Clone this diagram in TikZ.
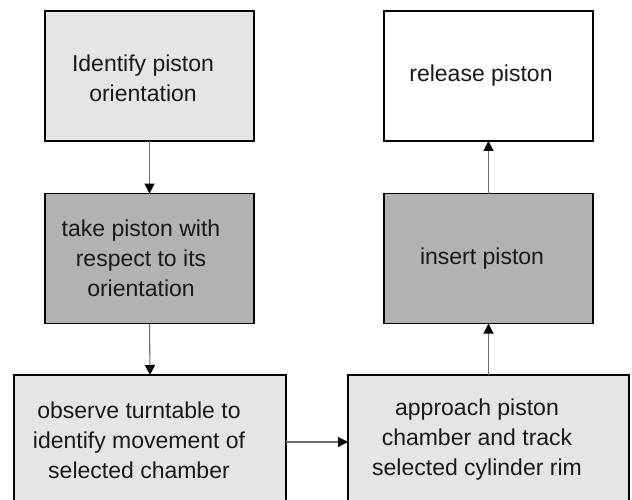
\documentclass[tikz,border=0pt]{standalone}
\usepackage{fontspec}
\setmainfont{Liberation Sans}
\usetikzlibrary{arrows.meta}
\definecolor{lightbox}{HTML}{E5E5E5}
\definecolor{darkbox}{HTML}{B2B2B2}
\definecolor{conn}{HTML}{6E6E6E}
\tikzset{
  box/.style={draw=black, line width=1.1pt, minimum width=209pt, minimum height=130pt, inner sep=0pt, outer sep=0pt},
  txt/.style={align=center, inner sep=0pt, font=\fontsize{23}{30}\selectfont, text=black!90},
  flow/.style={draw=conn, line width=1.1pt, -{Triangle[length=10pt,width=10pt,color=black]}}
}
\begin{document}
\begin{tikzpicture}[x=1pt,y=-1pt]
\useasboundingbox (0,0) rectangle (632,500);
\clip (0,0) rectangle (632,500);
\fill[white] (0,0) rectangle (632,500);
% boxes
\node[box, fill=lightbox] (b1) at (149.5,76) {};
\node[box, fill=darkbox] (b2) at (149.5,258.5) {};
\node[box, fill=lightbox, minimum width=272pt, minimum height=131pt] (b3) at (150,440.5) {};
\node[box, fill=white] (b4) at (488.5,76) {};
\node[box, fill=darkbox] (b5) at (488.5,258.5) {};
\node[box, fill=lightbox, minimum width=281pt, minimum height=131pt] (b6) at (488.5,440.5) {};
% texts
\node[txt] (t1) at (143,78) {Identify piston\\orientation};
\node[txt] (t2) at (141,258) {take piston with\\respect to its\\orientation};
\node[txt] (t3) at (139,440) {observe turntable to\\identify movement of\\selected chamber};
\node[txt] (t4) at (481,76) {release piston};
\node[txt] (t5) at (482,259) {insert piston};
\node[txt] (t6) at (477,440) {approach piston\\chamber and track\\selected cylinder rim};
% connectors
\draw[flow] (b1.south) -- (b2.north);
\draw[flow] (b2.south) -- (b3.north);
\draw[flow] (b3.east |- 0,442) -- (b6.west |- 0,442);
\draw[flow] (b6.north) -- (b5.south);
\draw[flow] (b5.north) -- (b4.south);
\end{tikzpicture}
\end{document}
